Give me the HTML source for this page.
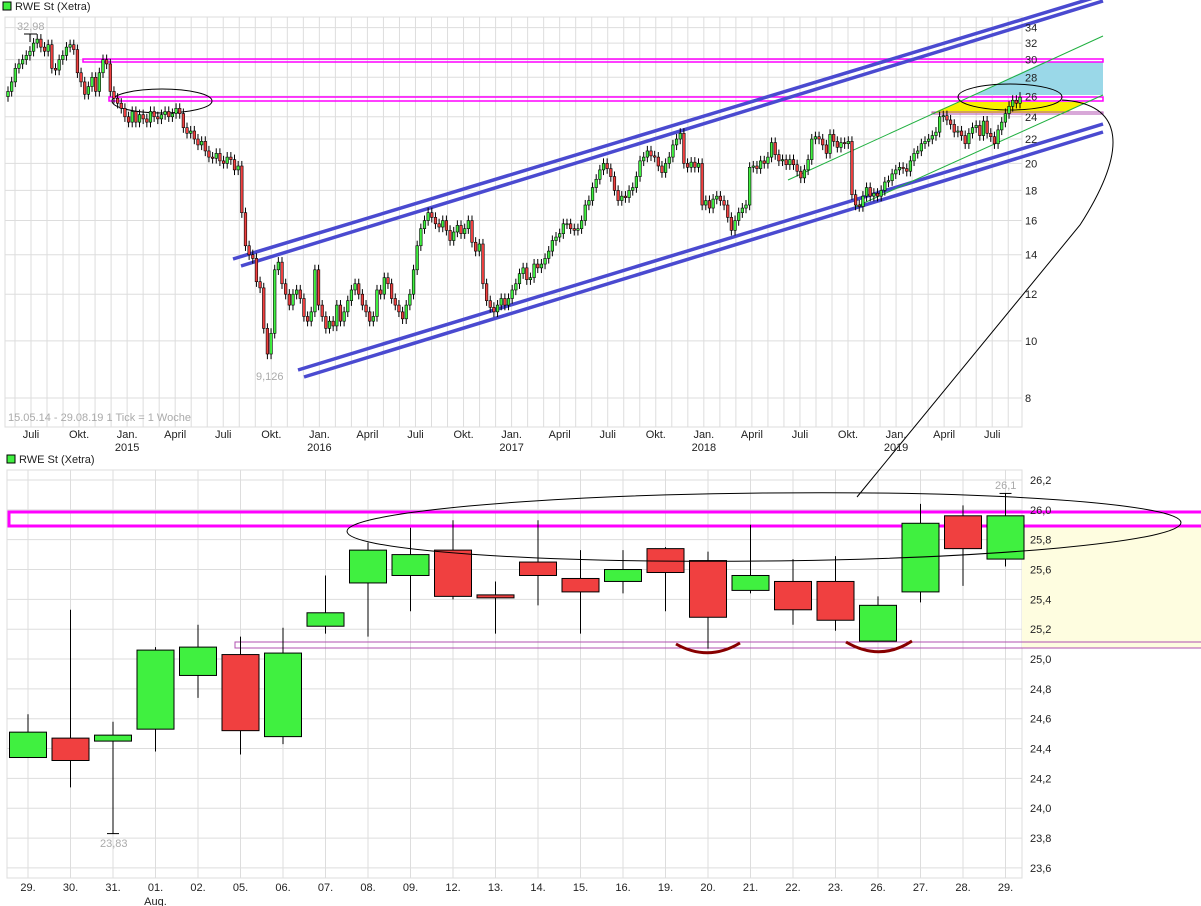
<!DOCTYPE html>
<html><head><meta charset="utf-8"><style>
body{margin:0;background:#fff;}
svg{display:block;font-family:"Liberation Sans",sans-serif;}
</style></head><body>
<svg id="chart" width="1201" height="906" viewBox="0 0 1201 906" xmlns="http://www.w3.org/2000/svg">
<g id="topgrid"></g>
<g id="botgrid"></g>
<rect x="5" y="17" width="1017" height="410" fill="none" stroke="#ddd"/>
<rect x="7" y="470" width="1015" height="408" fill="none" stroke="#ddd"/>
<rect x="1022" y="526" width="179" height="122" fill="#fefde0"/>
<g id="overlayTop">
<polygon points="973,95 1044,62 1103,62 1103,95" fill="#9ad8e8"/>
<polygon points="932,113 958,102 1085,102 1066,113" fill="#f8f000"/>
<rect x="83" y="59" width="1020" height="3" fill="none" stroke="#f0f" stroke-width="1.5"/>
<rect x="109" y="97" width="994" height="4" fill="none" stroke="#f0f" stroke-width="1.5"/>
<rect x="932" y="112" width="171" height="2" fill="none" stroke="#b050b0" stroke-width="1"/>
<line x1="233" y1="259" x2="1103" y2="-5" stroke="#4a4ad0" stroke-width="3.5"/>
<line x1="241" y1="266" x2="1103" y2="1" stroke="#4a4ad0" stroke-width="3.5"/>
<line x1="298" y1="370" x2="1103" y2="124" stroke="#4a4ad0" stroke-width="3.5"/>
<line x1="304" y1="377" x2="1103" y2="132" stroke="#4a4ad0" stroke-width="3.5"/>
<line x1="788" y1="180" x2="1103" y2="36" stroke="#20b040" stroke-width="1"/>
<line x1="855" y1="207" x2="1103" y2="95" stroke="#20b040" stroke-width="1"/>
<ellipse cx="162" cy="101" rx="50" ry="12" fill="none" stroke="#000" stroke-width="1"/>
<ellipse cx="1010" cy="97" rx="52" ry="13" fill="none" stroke="#000" stroke-width="1"/>
</g>
<g id="topCandles"></g>
<g id="botOverlay">
<rect x="9" y="512" width="1195" height="14" fill="none" stroke="#f0f" stroke-width="3"/>
<rect x="235" y="642" width="970" height="6" fill="none" stroke="#b050b0" stroke-width="1"/>
</g>
<g id="botCandles"></g>
<ellipse cx="764" cy="527" rx="417" ry="34" fill="none" stroke="#000" stroke-width="1" transform="rotate(-0.6 764 527)"/>
<path d="M1062,100 C1125,104 1128,150 1080,225 L857,497" fill="none" stroke="#000" stroke-width="1"/>
<path d="M676,644 Q708,662 740,643" fill="none" stroke="#800" stroke-width="3"/>
<path d="M846,642 Q880,662 912,641" fill="none" stroke="#800" stroke-width="3"/>
<g id="labels">
<rect x="3" y="2" width="8" height="8" fill="#40f040" stroke="#000" stroke-width="1"/>
<text x="15" y="10" font-size="11" fill="#222">RWE St (Xetra)</text>
<rect x="7" y="455" width="8" height="8" fill="#40f040" stroke="#000" stroke-width="1"/>
<text x="19" y="463" font-size="11" fill="#222">RWE St (Xetra)</text>
<text x="8" y="421" font-size="11" fill="#aaa">15.05.14 - 29.08.19   1 Tick = 1 Woche</text>
<text x="17" y="30" font-size="11" fill="#aaa">32,98</text>
<line x1="24" y1="34" x2="37" y2="34" stroke="#000"/>
<line x1="30" y1="34" x2="30" y2="42" stroke="#000"/>
<text x="256" y="380" font-size="11" fill="#aaa">9,126</text>
<text x="100" y="847" font-size="11" fill="#aaa">23,83</text>
<text x="995" y="489" font-size="11" fill="#aaa">26,1</text>
</g>
<g id="axes"></g>
</svg>
<script>
// weekly closes 15.05.14 - 29.08.19
const weeklyClose=[26.5,27.5,29,29.5,30,30.5, 31,32,32.5,31.5,31, 31.8,29,28.8,30, 30.5,31.5,31.8,31.2, 28.5,27.5,26.2,27,28, 26.5,28.5,30,29.5, 26.5,25.8,25.3,24.8,
24,23.5,24.5,23.5,24.2, 23.8,23.5,24.5,24, 23.8,24.2,24.5,24,24.3, 24.8,24.3,23,22.5, 22.7,22,21.5,21.8, 21,20.5,20.4,20.8, 20.2,20,20.5,20.3,19.5, 19.8,16.5,14.5,14, 13.8,12.6,12.3,10.5, 9.5,10.3,13.2,13.6,12.5, 12,11.5,12,12.2, 11.8,11,10.8,11.2,
13.2,11.5,11,10.5,10.8, 10.6,11.5,10.8,11.2, 11.7,12.2,12.5,12,11.5, 11.2,10.8,11,12.2, 12,12.8,12.5,11.8, 11.5,11.2,10.9,11.5,12, 13.2,14.5,15.5,16,16.5, 16.2,15.8,15.6,16, 15.4,14.8,15.3,15.7, 15.2,15.5,16,14.7,14.2, 14.6,12.5,11.7,11.4, 11.2,11.5,11.8,11.5,
11.8,12.2,12.5,13,13.3, 12.7,12.8,13.5,13.3, 13.5,13.8,14.2,14.8,15, 15.2,15.8,15.8,15.5, 15.4,15.5,16,17, 17.3,18.2,18.8,19.5, 20,19.6,19,18,17.3, 17.6,17.5,18,18.2, 19,20.2,20.5,21, 20.6,20.5,19.8,19.3,20, 20.5,21.5,22,22.5, 20,19.7,20.1,19.7,
20,17,17.3,16.8,17.4, 17.6,17.3,17,16.2, 15.4,16,16.5,16.8,17, 19.7,19.8,19.6,20.2,20, 20.5,21.7,20.7,20.2, 20.3,19.9,20.3,19.9, 19.4,18.9,19.5,20.3,22, 22.2,22,21.5,20.8, 22.4,21.8,21.3,21.7, 21.6,21.8,17.7,17,16.9, 17.6,18.2,17.6,17.8, 17.6,18,18.6,18.7,
19.2,19.5,19.7,19.6,19.4, 20.2,20.8,21,21.6, 21.8,22,22.3,22.6, 24,24.1,23.7,23.3, 22.6,22.7,22.3,21.6,22.5, 23,23.2,22.3,23.6, 22.5,22.2,21.6,22.8,23.5, 24.3,25,25.6,25.3,25.9];
const topTicks=[34,32,30,28,26,24,22,20,18,16,14,12,10,8];
const monthLabels=["Juli","Okt.","Jan.","April","Juli","Okt.","Jan.","April","Juli","Okt.","Jan.","April","Juli","Okt.","Jan.","April","Juli","Okt.","Jan.","April","Juli"];
const yearLabels=["2015","2016","2017","2018","2019"];
// daily candles 29.07 - 29.08.19
const dayLabels=["29.","30.","31.","01.","02.","05.","06.","07.","08.","09.","12.","13.","14.","15.","16.","19.","20.","21.","22.","23.","26.","27.","28.","29."];
const dOpen =[24.34,24.47,24.45,24.53,24.89,25.03,24.48,25.22,25.51,25.56,25.73,25.43,25.65,25.54,25.52,25.74,25.66,25.46,25.52,25.52,25.12,25.45,25.96,25.67];
const dClose=[24.51,24.32,24.49,25.06,25.08,24.52,25.04,25.31,25.73,25.70,25.42,25.41,25.56,25.45,25.60,25.58,25.28,25.56,25.33,25.26,25.36,25.91,25.74,25.96];
const dHigh =[24.63,25.33,24.58,25.08,25.23,25.15,25.21,25.56,25.78,25.88,25.93,25.52,25.93,25.73,25.73,25.75,25.72,25.90,25.67,25.69,25.42,26.04,26.03,26.11];
const dLow  =[24.34,24.14,23.83,24.38,24.74,24.36,24.43,25.17,25.15,25.32,25.40,25.17,25.36,25.17,25.44,25.32,25.07,25.44,25.23,25.19,25.12,25.38,25.49,25.62];
const botTicks=[26.2,26.0,25.8,25.6,25.4,25.2,25.0,24.8,24.6,24.4,24.2,24.0,23.8,23.6];

const NS="http://www.w3.org/2000/svg";
function mk(t,a,p){const e=document.createElementNS(NS,t);for(const k in a)e.setAttribute(k,a[k]);p.appendChild(e);return e;}
const yT=v=>398-256*Math.log(v/8);
const xT=i=>8+i*(1012/(weeklyClose.length-1));
const xM=m=>31+m*16.02;
const yB=v=>480+(26.2-v)*149.2;
const xB=i=>28+i*42.5;
const tg=document.getElementById('topgrid'),bg=document.getElementById('botgrid'),ax=document.getElementById('axes');
for(const t of topTicks){const l=mk('line',{x1:5,x2:1022,y1:yT(t),y2:yT(t),stroke:'#ddd'},tg);


const tx=mk('text',{x:1025,y:yT(t)+4,'font-size':11,fill:'#222'},ax);tx.textContent=t;

}
for(let m=-2;m<=62;m++){const x=xM(m);if(x<5||x>1022)continue;const l=mk('line',{x1:x,x2:x,y1:17,y2:427,stroke:'#ddd'},tg);

}
monthLabels.forEach((s,k)=>{const tx=mk('text',{x:xM(k*3),y:438,'font-size':11,fill:'#222','text-anchor':'middle'},ax);tx.textContent=s;

});
yearLabels.forEach((s,k)=>{const tx=mk('text',{x:xM(6+k*12),y:451,'font-size':11,fill:'#222','text-anchor':'middle'},ax);tx.textContent=s;

});
const tc=document.getElementById('topCandles');
weeklyClose.forEach((c,i)=>{const o=i?weeklyClose[i-1]:c*0.98;const x=xT(i);
const hi=Math.max(o,c)*1.02,lo=Math.min(o,c)*0.98;
const g=mk('g',{},tc);


mk('line',{x1:x,x2:x,y1:yT(hi),y2:yT(lo),stroke:'#000','stroke-width':1},g);
const yt=yT(Math.max(o,c)),yb=yT(Math.min(o,c));
mk('rect',{x:x-1.3,y:yt,width:2.6,height:Math.max(1,yb-yt),fill:c>=o?'#40f040':'#f04040',stroke:'#000','stroke-width':0.6},g);});
for(const t of botTicks){const l=mk('line',{x1:7,x2:1022,y1:yB(t),y2:yB(t),stroke:'#ddd'},bg);


const tx=mk('text',{x:1030,y:yB(t)+4,'font-size':11,fill:'#222'},ax);tx.textContent=t.toFixed(1).replace('.',',');

}
const bc=document.getElementById('botCandles');
dayLabels.forEach((s,i)=>{const x=xB(i);
const l=mk('line',{x1:x,x2:x,y1:470,y2:878,stroke:'#ddd'},bg);


const tx=mk('text',{x:x,y:891,'font-size':11,fill:'#222','text-anchor':'middle'},ax);tx.textContent=s;


const o=dOpen[i],c=dClose[i];
const g=mk('g',{},bc);


mk('line',{x1:x,x2:x,y1:yB(dHigh[i]),y2:yB(dLow[i]),stroke:'#000','stroke-width':1},g);
const yt=yB(Math.max(o,c)),yb=yB(Math.min(o,c));
mk('rect',{x:x-18.5,y:yt,width:37,height:Math.max(2,yb-yt),fill:c>=o?'#40f040':'#f04040',stroke:'#000','stroke-width':1},g);});
const ag=mk('text',{x:xB(3),y:905,'font-size':11,fill:'#222','text-anchor':'middle'},ax);ag.textContent='Aug.';


mk('line',{x1:xB(2)-6,x2:xB(2)+6,y1:yB(23.83),y2:yB(23.83),stroke:'#000'},bc);
mk('line',{x1:xB(23)-6,x2:xB(23)+6,y1:yB(26.11),y2:yB(26.11),stroke:'#000'},bc);
</script>
</body></html>
